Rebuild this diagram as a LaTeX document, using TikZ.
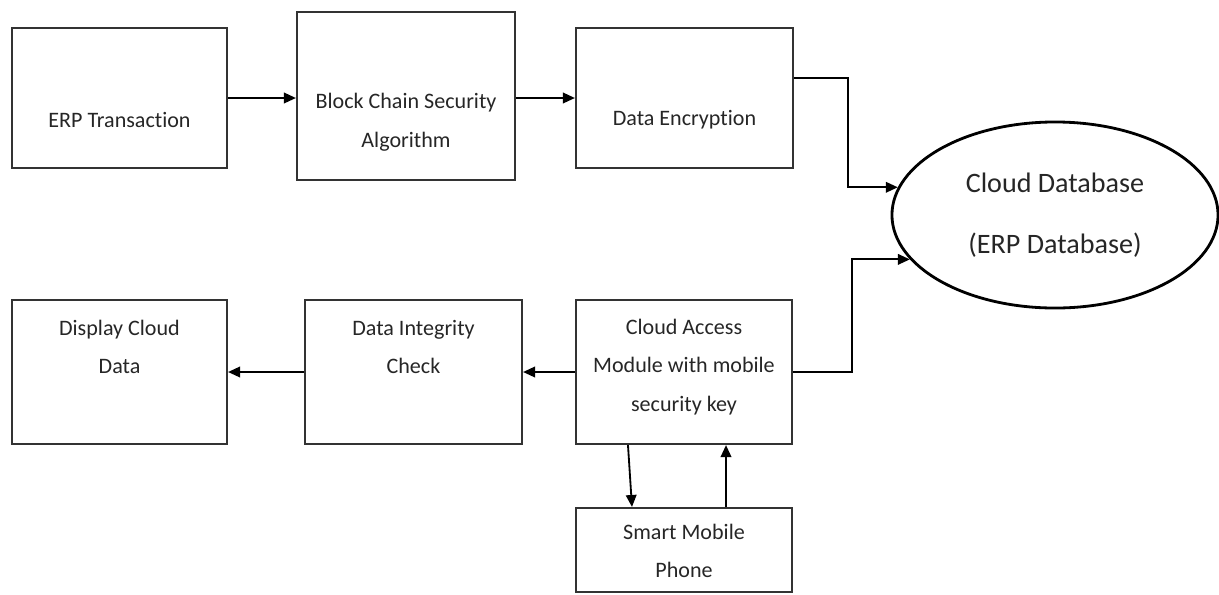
\documentclass[tikz,border=0pt]{standalone}
\usepackage{fontspec}
\setmainfont{Carlito}[Ligatures=NoCommon]
\usetikzlibrary{shapes.geometric,arrows.meta}

\begin{document}
\begin{tikzpicture}[x=0.025cm,y=-0.025cm,
    block/.style={draw=black!80,line width=1.5pt,inner sep=0pt},
    blocktext/.style={align=center,text=black!85,inner sep=0pt,font=\fontsize{15.7}{27.5}\selectfont},
    flow/.style={draw=black,line width=1.3pt,-{Triangle[length=8.5pt,width=7.5pt]}}]
        % fix the page size
        \useasboundingbox (0,0) rectangle (1219,594);
        % draw upper row of blocks
        \node[block,minimum width=5.375cm,minimum height=3.5cm] (erp) at (119.5,98) {};
        \node[block,minimum width=5.45cm,minimum height=4.2cm] (bcs) at (406,96) {};
        \node[block,minimum width=5.425cm,minimum height=3.5cm] (enc) at (684.5,98) {};
        \node[blocktext] (erptxt) at (119.5,120) {ERP Transaction};
        \node[blocktext] (bcstxt) at (406,122) {Block Chain Security\\Algorithm};
        \node[blocktext] (enctxt) at (684.5,120) {Data Encryption};
        % draw the database
        \node[ellipse,draw=black,line width=2pt,inner sep=0pt,minimum width=8.15cm,minimum height=4.65cm,
              align=center,text=black!85,font=\fontsize{20}{43.4}\selectfont] (db) at (1055,215)
              {Cloud Database\\(ERP Database)};
        % draw lower row of blocks
        \node[block,minimum width=5.375cm,minimum height=3.6cm] (disp) at (119.5,372) {};
        \node[block,minimum width=5.425cm,minimum height=3.6cm] (integ) at (413.5,372) {};
        \node[block,minimum width=5.4cm,minimum height=3.6cm] (access) at (684,372) {};
        \node[block,minimum width=5.4cm,minimum height=2.1cm] (phone) at (684,550) {};
        \node[blocktext] (disptxt) at (119.5,347) {Display Cloud\\Data};
        \node[blocktext] (integtxt) at (413.5,347) {Data Integrity\\Check};
        \node[blocktext] (accesstxt) at (684,367) {Cloud Access\\Module with mobile\\security key};
        \node[blocktext] (phonetxt) at (684,551) {Smart Mobile\\Phone};
        % draw arrows
        \draw[flow] (erp.east) -- (erp.east -| bcs.west);
        \draw[flow] (enc.west -| bcs.east) -- (enc.west);
        \draw[flow] ([yshift=0.5cm]enc.east) -- ++(1.35cm,0) |- (db.170);
        \draw[flow] (access.east) -- ++(1.475cm,0) |- (db.197);
        \draw[flow] (access.west) -- (integ.east);
        \draw[flow] (integ.west) -- (disp.east);
        \draw[flow] ([xshift=-1.4cm]access.south) -- ([xshift=-1.3cm]phone.north);
        \draw[flow] ([xshift=1.05cm]phone.north) -- ([xshift=1.05cm]access.south);
\end{tikzpicture}
\end{document}
